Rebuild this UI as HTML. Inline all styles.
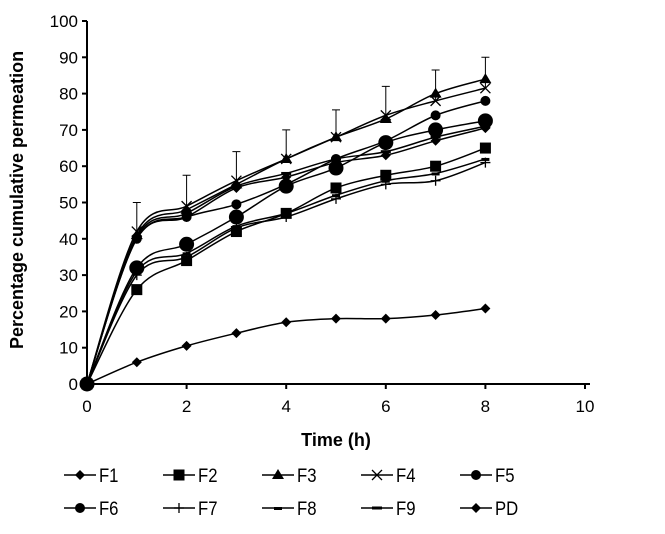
<!DOCTYPE html>
<html><head><meta charset="utf-8"><style>
body{margin:0;background:#fff;}
svg{display:block;font-family:"Liberation Sans",sans-serif;}
</style></head><body>
<svg id="chart" width="665" height="534" viewBox="0 0 665 534"></svg>
<script>
const xTicks=[0,2,4,6,8,10];
const yTicks=[0,10,20,30,40,50,60,70,80,90,100];
const times=[0,1,2,3,4,5,6,7,8];
const F1=[0,40,46,54,57,61,63,67,70.5];
const F2=[0,26,34,42,47,54,57.5,60,65];
const F3=[0,41,48,55,62,68,73,80,84];
const F4=[0,42,49,56,62,68,74,78,81.5];
const F5=[0,40,46,49.5,55,62,67,74,78];
const F6=[0,32,38.5,46,54.5,59.5,66.5,70,72.5];
const F7=[0,30,35,43,46,51,55,56,61];
const F8=[0,31,36,43.5,47,52,56,58,62];
const F9=[0,40.5,47,54.5,58,62,64,68,71];
const PD=[0,6,10.5,14,17,18,18,19,20.8];
const errTop=[0,50,57.5,64,70,75.5,82,86.5,90];
const seriesNames=["F1","F2","F3","F4","F5","F6","F7","F8","F9","PD"];
const seriesData=[F1,F2,F3,F4,F5,F6,F7,F8,F9,PD];
const markers=["diamond","square","triangle","x","circle","bigcircle","plus","dash","dash2","diamond"];

const NS="http://www.w3.org/2000/svg";
const svg=document.getElementById("chart");
const X0=87,X1=585,Y0=384,Y1=21;
const sx=v=>X0+(v-0)/(10-0)*(X1-X0);
const sy=v=>Y0-(v-0)/(100-0)*(Y0-Y1);
function el(tag,attrs,parent){const e=document.createElementNS(NS,tag);for(const k in attrs)e.setAttribute(k,attrs[k]);(parent||svg).appendChild(e);return e;}
function marker(type,x,y,g){
  if(type==="diamond")el("path",{d:`M${x} ${y-5}L${x+5} ${y}L${x} ${y+5}L${x-5} ${y}Z`,fill:"#000"},g);
  else if(type==="square")el("rect",{x:x-5.5,y:y-5.5,width:11,height:11,fill:"#000"},g);
  else if(type==="triangle")el("path",{d:`M${x} ${y-6}L${x+6} ${y+4}L${x-6} ${y+4}Z`,fill:"#000"},g);
  else if(type==="x")el("path",{d:`M${x-5} ${y-5}L${x+5} ${y+5}M${x+5} ${y-5}L${x-5} ${y+5}`,stroke:"#000","stroke-width":1.3},g);
  else if(type==="circle")el("circle",{cx:x,cy:y,r:5,fill:"#000"},g);
  else if(type==="bigcircle")el("circle",{cx:x,cy:y,r:7.5,fill:"#000"},g);
  else if(type==="plus")el("path",{d:`M${x-5} ${y}L${x+5} ${y}M${x} ${y-5}L${x} ${y+5}`,stroke:"#000","stroke-width":1.3},g);
  else if(type==="dash")el("rect",{x:x-4,y:y-1,width:8,height:3,fill:"#000"},g);
  else if(type==="dash2")el("rect",{x:x-5,y:y-1.5,width:10,height:3,fill:"#000"},g);
}
const ax=el("g",{});


el("line",{x1:X0,y1:Y1,x2:X0,y2:Y0,stroke:"#000","stroke-width":2},ax);
el("line",{x1:X0,y1:Y0,x2:X1+5,y2:Y0,stroke:"#000","stroke-width":2},ax);
yTicks.forEach(t=>{
  el("line",{x1:X0-5,y1:sy(t),x2:X0,y2:sy(t),stroke:"#000","stroke-width":2},ax);
  const tx=el("text",{x:X0-9,y:sy(t)+6,"text-anchor":"end","font-size":17},ax);
  
  
  tx.textContent=t;
});
xTicks.forEach(t=>{
  el("line",{x1:sx(t),y1:Y0,x2:sx(t),y2:Y0+5,stroke:"#000","stroke-width":2},ax);
  const tx=el("text",{x:sx(t),y:Y0+28,"text-anchor":"middle","font-size":17},ax);
  
  
  tx.textContent=t;
});
const xt=el("text",{x:336,y:446,"text-anchor":"middle","font-size":18,"font-weight":"bold"});


xt.textContent="Time (h)";
const yt=el("text",{x:0,y:0,"text-anchor":"middle","font-size":18,"font-weight":"bold",transform:"translate(23,200) rotate(-90)"});


yt.textContent="Percentage cumulative permeation";
const eg=el("g",{});


times.forEach((t,i)=>{ if(i===0)return;
  el("path",{d:`M${sx(t)} ${sy(F4[i])}L${sx(t)} ${sy(errTop[i])}M${sx(t)-4} ${sy(errTop[i])}L${sx(t)+4} ${sy(errTop[i])}`,stroke:"#000","stroke-width":1},eg);
});
function smooth(pts){let d=`M${pts[0][0]} ${pts[0][1]}`;for(let i=0;i<pts.length-1;i++){const p0=pts[i-1]||pts[i],p1=pts[i],p2=pts[i+1],p3=pts[i+2]||p2;d+=`C${p1[0]+(p2[0]-p0[0])/6} ${p1[1]+(p2[1]-p0[1])/6} ${p2[0]-(p3[0]-p1[0])/6} ${p2[1]-(p3[1]-p1[1])/6} ${p2[0]} ${p2[1]}`;}return d;}
seriesData.forEach((data,si)=>{
  const g=el("g",{});
  
  
  const pts=times.map((t,i)=>[sx(t),sy(data[i])]);
  el("path",{d:smooth(pts),fill:"none",stroke:"#000","stroke-width":1.5},g);
  pts.forEach(p=>marker(markers[si],p[0],p[1],g));
});
const lg=el("g",{});


seriesNames.forEach((n,i)=>{
  const col=i%5,row=Math.floor(i/5);
  const x=64+col*99,y=475+row*33;
  const g=el("g",{},lg);
  
  
  el("line",{x1:x,y1:y,x2:x+32,y2:y,stroke:"#000","stroke-width":1.5},g);
  marker(markers[i]==="bigcircle"?"circle":markers[i],x+16,y,g);
  const t=el("text",{x:x+35,y:y+7,"font-size":19,transform:`translate(${(x+35)*0.12},0) scale(0.88,1)`},g);
  t.textContent=n;
});
</script>
</body></html>
